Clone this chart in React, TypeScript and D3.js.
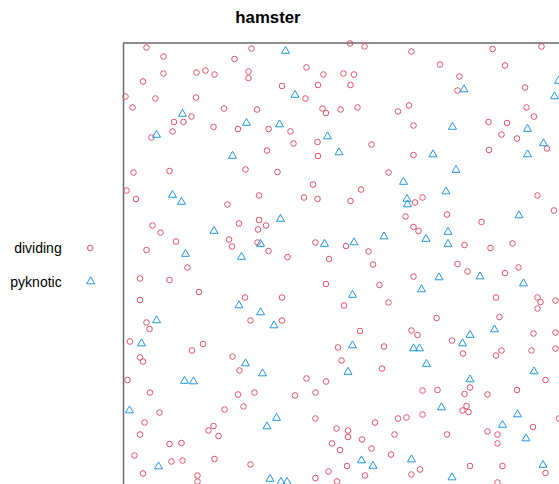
import React from "react";
import * as d3 from "d3";

const title = "hamster";
const categories = ["dividing", "pyknotic"];
const colors = ["#DF536B", "#2297E6"];

// dividing cells [x, y] in the unit square
const dividing: [number, number][] = [
  [0.046,0.991],[0.080,0.973],[0.256,0.989],[0.222,0.968],[0.080,0.939],[0.146,0.941],[0.164,0.945],[0.182,0.937],[0.250,0.943],[0.250,0.930],
  [0.039,0.923],[0.004,0.893],[0.064,0.889],[0.145,0.891],[0.018,0.871],[0.201,0.869],[0.267,0.867],[0.136,0.853],[0.101,0.842],[0.120,0.842],
  [0.180,0.832],[0.229,0.828],[0.290,0.828],[0.098,0.823],[0.056,0.811],[0.287,0.785],[0.244,0.747],[0.020,0.741],[0.092,0.744],
  [0.453,0.999],[0.482,0.993],[0.576,0.983],[0.366,0.951],[0.400,0.937],[0.440,0.939],[0.461,0.937],[0.317,0.914],[0.389,0.916],[0.454,0.916],
  [0.364,0.889],[0.398,0.869],[0.405,0.860],[0.434,0.867],[0.468,0.871],[0.549,0.863],[0.571,0.875],[0.334,0.823],[0.340,0.799],[0.388,0.802],
  [0.496,0.797],[0.389,0.774],[0.308,0.742],[0.530,0.741],[0.379,0.717],
  [0.738,0.988],[0.836,0.993],[0.633,0.957],[0.763,0.955],[0.672,0.933],[0.668,0.905],[0.803,0.911],[0.806,0.871],[0.821,0.853],[0.580,0.835],
  [0.730,0.842],[0.767,0.840],[0.756,0.817],[0.787,0.809],[0.847,0.789],[0.580,0.776],[0.731,0.786],
  [0.006,0.705],[0.025,0.688],[0.271,0.695],[0.208,0.677],[0.058,0.635],[0.074,0.621],[0.231,0.639],[0.271,0.646],[0.269,0.627],[0.285,0.635],
  [0.105,0.603],[0.211,0.607],[0.217,0.593],[0.268,0.601],[0.046,0.586],[0.128,0.551],[0.033,0.529],[0.092,0.526],[0.151,0.502],[0.033,0.486],
  [0.243,0.491],[0.254,0.445],[0.046,0.441],[0.052,0.428],
  [0.475,0.707],[0.361,0.691],[0.388,0.688],[0.454,0.684],[0.564,0.653],[0.384,0.601],[0.445,0.594],[0.290,0.584],[0.328,0.572],[0.411,0.568],
  [0.490,0.583],[0.499,0.557],[0.405,0.518],[0.512,0.516],[0.317,0.491],[0.441,0.475],[0.530,0.481],[0.317,0.445],[0.473,0.424],[0.576,0.425],
  [0.598,0.691],[0.583,0.681],[0.828,0.695],[0.861,0.665],[0.647,0.657],[0.716,0.642],[0.580,0.632],[0.590,0.624],[0.682,0.596],[0.734,0.590],
  [0.778,0.599],[0.668,0.558],[0.688,0.543],[0.763,0.540],[0.790,0.551],[0.580,0.533],[0.745,0.491],[0.828,0.491],[0.834,0.482],[0.864,0.485],
  [0.828,0.469],[0.626,0.450],[0.752,0.452],[0.864,0.421],
  [0.013,0.403],[0.137,0.385],[0.159,0.398],[0.033,0.371],[0.039,0.363],[0.218,0.373],[0.232,0.345],[0.008,0.326],[0.053,0.301],[0.229,0.297],
  [0.262,0.301],[0.240,0.273],[0.202,0.267],[0.072,0.261],[0.042,0.241],[0.180,0.234],[0.170,0.225],[0.190,0.214],[0.033,0.217],[0.092,0.198],
  [0.116,0.200],[0.022,0.175],[0.096,0.163],[0.118,0.165],[0.182,0.168],[0.254,0.157],[0.039,0.139],[0.148,0.135],[0.148,0.123],
  [0.429,0.391],[0.521,0.393],[0.436,0.365],[0.517,0.349],[0.366,0.329],[0.405,0.323],[0.384,0.301],[0.343,0.295],[0.384,0.249],[0.426,0.229],
  [0.449,0.225],[0.449,0.212],[0.417,0.199],[0.433,0.186],[0.477,0.207],[0.503,0.241],[0.496,0.189],[0.542,0.217],[0.549,0.249],[0.566,0.251],
  [0.535,0.177],[0.447,0.154],[0.410,0.143],[0.483,0.135],[0.384,0.130],[0.427,0.123],[0.576,0.137],
  [0.588,0.416],[0.657,0.405],[0.679,0.379],[0.745,0.375],[0.756,0.385],[0.820,0.419],[0.816,0.385],[0.864,0.389],[0.844,0.326],[0.598,0.305],
  [0.628,0.306],[0.682,0.298],[0.693,0.311],[0.728,0.297],[0.787,0.306],[0.686,0.274],[0.678,0.265],[0.690,0.262],[0.598,0.257],[0.871,0.249],
  [0.819,0.232],[0.647,0.217],[0.728,0.223],[0.748,0.217],[0.748,0.199],[0.593,0.147],[0.693,0.154],[0.758,0.154],[0.844,0.140],[0.748,0.121],
];

// pyknotic cells [x, y] in the unit square
const pyknotic: [number, number][] = [
  [0.118,0.858],[0.246,0.840],[0.066,0.816],[0.218,0.774],[0.324,0.984],[0.343,0.896],[0.312,0.837],[0.408,0.813],[0.431,0.781],[0.560,0.722],
  [0.681,0.907],[0.870,0.924],[0.862,0.893],[0.658,0.832],[0.808,0.828],[0.840,0.799],[0.619,0.777],[0.808,0.777],[0.665,0.746],
  [0.098,0.696],[0.116,0.682],[0.181,0.624],[0.124,0.578],[0.236,0.572],[0.274,0.598],[0.231,0.475],[0.274,0.461],[0.066,0.445],
  [0.314,0.648],[0.402,0.598],[0.461,0.601],[0.521,0.613],[0.567,0.688],[0.568,0.677],[0.458,0.496],[0.301,0.435],
  [0.645,0.703],[0.791,0.655],[0.649,0.622],[0.605,0.608],[0.649,0.598],[0.631,0.531],[0.713,0.533],[0.800,0.519],[0.596,0.507],[0.742,0.427],
  [0.036,0.399],[0.244,0.359],[0.278,0.339],[0.122,0.324],[0.140,0.323],[0.012,0.265],[0.287,0.233],[0.070,0.153],
  [0.458,0.395],[0.449,0.342],[0.306,0.250],[0.476,0.165],[0.499,0.154],[0.576,0.167],[0.293,0.128],[0.315,0.122],[0.327,0.122],
  [0.693,0.416],[0.678,0.399],[0.580,0.389],[0.592,0.389],[0.606,0.358],[0.821,0.343],[0.693,0.327],[0.636,0.271],[0.788,0.257],[0.758,0.236],
  [0.805,0.209],[0.839,0.156],[0.657,0.131],
];

const W = 559;
const H = 484;
const SIDE = 500;
const LEFT = 123.5;
const TOP = 43;
const FONT = "'Liberation Sans', Arial, Helvetica, sans-serif";

const triPath = "M0,-4.6L4,2.3L-4,2.3Z";

export default function App() {
  const x = d3.scaleLinear().domain([0, 1]).range([LEFT, LEFT + SIDE]);
  const y = d3.scaleLinear().domain([0, 1]).range([TOP + SIDE, TOP]);
  const legendY = d3.scalePoint<string>().domain(categories).range([248, 281.5]);

  return (
    <svg
      width={W}
      height={H}
      style={{ position: "absolute", left: 0, top: 0, background: "#fff" }}
      fontFamily={FONT}
    >
      <rect x={0} y={0} width={W} height={H} fill="#fff" />
      <text x={268} y={23} textAnchor="middle" fontWeight="bold" fontSize={16.8} fill="#000">
        {title}
      </text>
      <rect
        x={x(0)}
        y={y(1)}
        width={x(1) - x(0)}
        height={y(0) - y(1)}
        fill="none"
        stroke="#6a6a6a"
        strokeWidth={1.5}
      />
      <g>
        {dividing.map((d, i) => (
          <circle key={"d" + i} cx={x(d[0])} cy={y(d[1])} r={2.8} fill="none" stroke={colors[0]} strokeWidth={1} />
        ))}
      </g>
      <g>
        {pyknotic.map((d, i) => (
          <path
            key={"p" + i}
            d={triPath}
            transform={`translate(${x(d[0])},${y(d[1])})`}
            fill="none"
            stroke={colors[1]}
            strokeWidth={1}
          />
        ))}
      </g>
      <g>
        {categories.map((c, i) => (
          <g key={c}>
            <text x={61.7} y={(legendY(c) as number) + 5} textAnchor="end" fontSize={14} fill="#000">
              {c}
            </text>
            {i === 0 ? (
              <circle cx={90.3} cy={legendY(c)} r={2.8} fill="none" stroke={colors[0]} strokeWidth={1} />
            ) : (
              <path d={triPath} transform={`translate(90.7,${legendY(c)})`} fill="none" stroke={colors[1]} strokeWidth={1} />
            )}
          </g>
        ))}
      </g>
    </svg>
  );
}
